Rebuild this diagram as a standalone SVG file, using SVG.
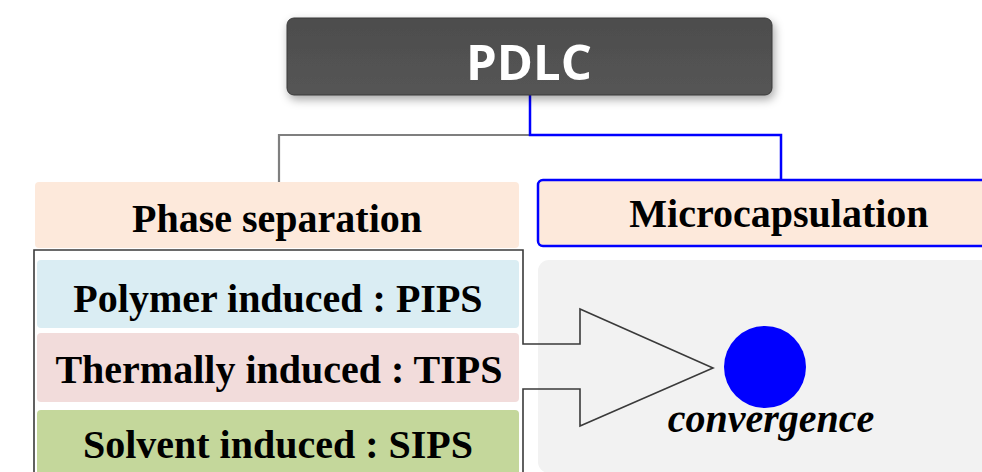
<svg xmlns="http://www.w3.org/2000/svg" width="982" height="472" viewBox="0 0 982 472">
<defs>
<filter id="sh" x="-10%" y="-30%" width="125%" height="170%">
<feDropShadow dx="2" dy="4" stdDeviation="5" flood-color="#000" flood-opacity="0.35"/>
</filter>
<linearGradient id="dk" x1="0" y1="0" x2="0" y2="1">
<stop offset="0" stop-color="#4d4d4d"/>
<stop offset="1" stop-color="#555555"/>
</linearGradient>
</defs>
<style>
.lbl{font-family:"Liberation Serif","Times New Roman",serif;font-weight:bold;font-size:40px;fill:#000;text-anchor:middle}
.hdr{fill:#fde9db}
</style>
<rect width="982" height="472" fill="#fff"/>
<g id="connectors" fill="none">
<path d="M530 135 H279 V183" stroke="#7f7f7f" stroke-width="2.2"/>
<path d="M530 94 V135 H781 V181" stroke="#0000ff" stroke-width="2.5"/>
</g>
<g id="pdlc">
<rect x="287" y="18" width="485" height="77" rx="7" fill="url(#dk)" stroke="#3a3a3a" stroke-width="1" filter="url(#sh)"/>
<text x="529" y="80" font-family="'Open Sans','Liberation Sans',sans-serif" font-weight="bold" font-size="49" fill="#fff" text-anchor="middle">PDLC</text>
</g>
<g id="phase-separation">
<rect class="hdr" x="35" y="182" width="484" height="66" rx="4"/>
<text class="lbl" x="277" y="232">Phase separation</text>
</g>
<g id="microcapsulation">
<rect class="hdr" x="538" y="180" width="460" height="66" rx="5" stroke="#0000ff" stroke-width="2.5"/>
<text class="lbl" x="779" y="227">Microcapsulation</text>
</g>
<g id="convergence-panel">
<rect x="538" y="260" width="460" height="213" rx="11" fill="#f2f2f2"/>
</g>
<g id="pips">
<rect x="37" y="260" width="482" height="68" rx="4" fill="#daedf3"/>
<text class="lbl" x="278" y="312">Polymer induced : PIPS</text>
</g>
<g id="tips">
<rect x="37" y="333" width="482" height="69" rx="4" fill="#f2dcdb"/>
<text class="lbl" x="279" y="383">Thermally induced : TIPS</text>
</g>
<g id="sips">
<rect x="37" y="410" width="482" height="70" rx="4" fill="#c4d79b"/>
<text class="lbl" x="278" y="458">Solvent induced : SIPS</text>
</g>
<g id="group-arrow">
<path d="M34 475 V250 H523 V344 H580 V309 L713 368 L580 426 V389 H523 V475" fill="none" stroke="#3a3a3a" stroke-width="1.6" stroke-linejoin="miter"/>
</g>
<g id="convergence">
<circle cx="765" cy="367" r="41" fill="#0000ff"/>
<text x="771" y="432" font-family="'Liberation Serif','Times New Roman',serif" font-weight="bold" font-style="italic" font-size="40" fill="#000" text-anchor="middle">convergence</text>
</g>
</svg>
